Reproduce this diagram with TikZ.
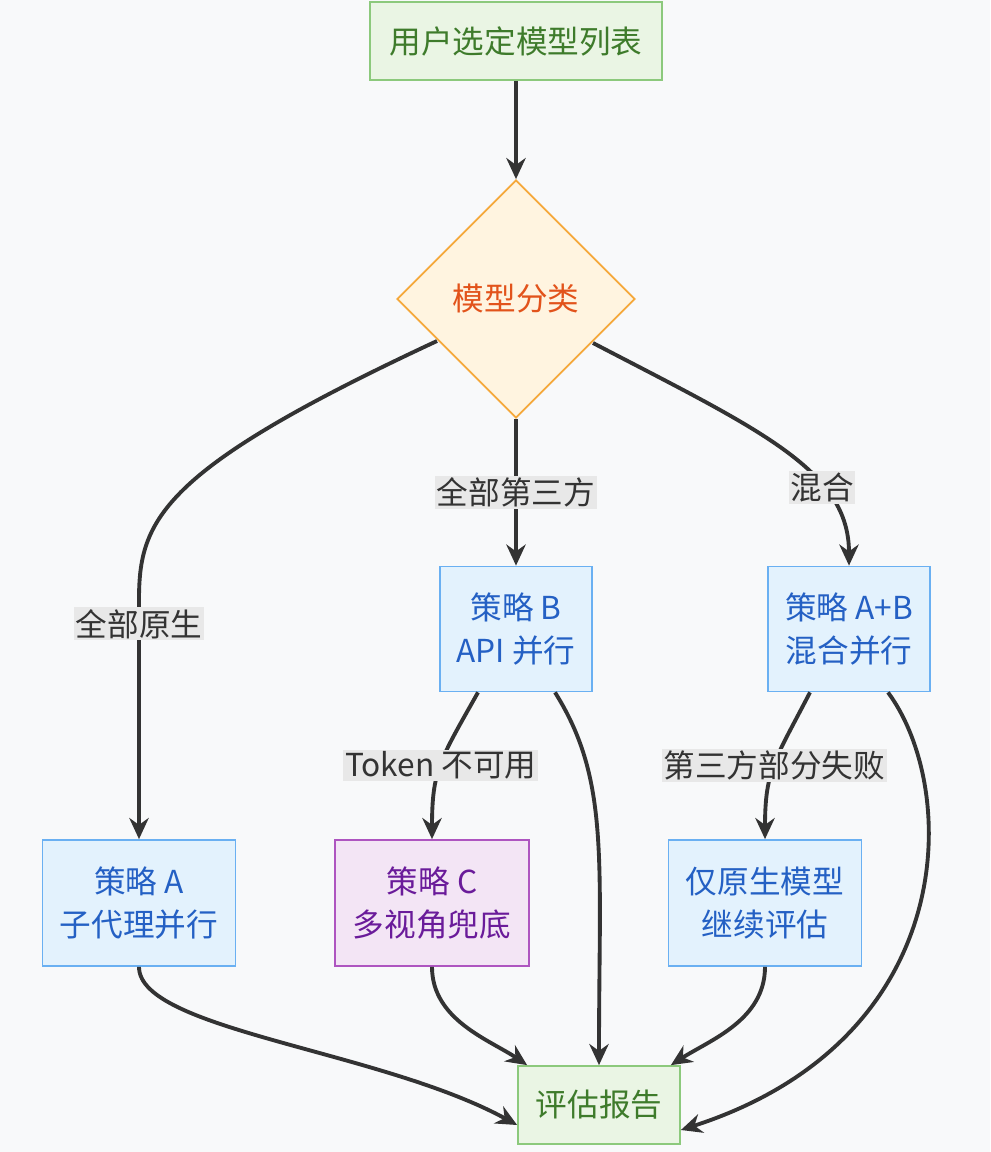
\documentclass[tikz,border=0pt]{standalone}
\usepackage{fontspec}
\setmainfont{Noto Sans CJK SC}
\usetikzlibrary{shapes.geometric,arrows.meta}
\definecolor{bgc}{HTML}{F8F9FA}
\definecolor{grnf}{HTML}{EAF5E4}\definecolor{grnd}{HTML}{8CC97C}\definecolor{grnt}{HTML}{3E7B2B}
\definecolor{orf}{HTML}{FFF4E0}\definecolor{ord}{HTML}{F5A83A}\definecolor{ort}{HTML}{E2531B}
\definecolor{blf}{HTML}{E3F2FD}\definecolor{bld}{HTML}{6AB0F2}\definecolor{blt}{HTML}{2460C4}
\definecolor{puf}{HTML}{F3E5F5}\definecolor{pud}{HTML}{AE55C0}\definecolor{put}{HTML}{6A1B9A}
\definecolor{lnc}{HTML}{333333}\definecolor{lbf}{HTML}{E8E8E8}
\begin{document}
\begin{tikzpicture}[x=0.02cm, y=-0.02cm, font=\fontsize{18}{25}\selectfont,
    box/.style={rectangle, draw, line width=1pt, align=center, inner sep=0pt},
    green box/.style={box, fill=grnf, draw=grnd, text=grnt},
    blue box/.style={box, fill=blf, draw=bld, text=blt},
    purple box/.style={box, fill=puf, draw=pud, text=put},
    decision/.style={diamond, draw=ord, fill=orf, text=ort, line width=1pt, inner sep=0pt},
    link/.style={draw=lnc, line width=2.2pt, -{Stealth[length=12pt,width=11pt]}},
    lbl/.style={fill=lbf, text=lnc, inner sep=1pt}]

  \fill[bgc] (0,0) rectangle (990,1152);

  \node[green box, minimum width=5.84cm, minimum height=1.56cm] (start) at (516,41) {用户选定模型列表};
  \node[decision, minimum width=4.76cm, minimum height=4.76cm] (cls) at (516,299) {模型分类};
  \node[blue box, minimum width=3.04cm, minimum height=2.5cm] (sb) at (516,629) {策略 B\\API 并行};
  \node[blue box, minimum width=3.24cm, minimum height=2.5cm] (sab) at (849,629) {策略 A+B\\混合并行};
  \node[blue box, minimum width=3.86cm, minimum height=2.52cm] (sa) at (139,903) {策略 A\\子代理并行};
  \node[purple box, minimum width=3.88cm, minimum height=2.52cm] (sc) at (432,903) {策略 C\\多视角兜底};
  \node[blue box, minimum width=3.86cm, minimum height=2.52cm] (nat) at (765,903) {仅原生模型\\继续评估};
  \node[green box, minimum width=3.24cm, minimum height=1.56cm] (rep) at (599,1105) {评估报告};

  \coordinate (clsL) at (437,341);
  \coordinate (clsR) at (593,343);

  \path[link] (start) -- (cls);
  \path[link] (clsL) .. controls (160,470) and (139,520) .. (139,600) -- node[pos=0.1, lbl] {全部原生} (sa.north);
  \path[link] (cls.south) -- node[pos=0.5, lbl] {全部第三方} (sb.north);
  \path[link] (clsR) .. controls (760,430) and (849,470) .. node[pos=0.68, lbl] {混合} (sab.north);
  \path[link] ([xshift=-0.76cm]sb.south) .. controls (440,760) and (432,770) .. node[pos=0.5, lbl] {Token 不可用} (sc.north);
  \path[link] ([xshift=0.78cm]sb.south) .. controls (610,780) and (599,860) .. (rep.north);
  \path[link] ([xshift=-0.78cm]sab.south) .. controls (775,760) and (765,770) .. node[pos=0.5, lbl] {第三方部分失败} (nat.north);
  \path[link] ([xshift=0.78cm]sab.south) .. controls (960,790) and (960,1040) .. ([yshift=-0.5cm]rep.east);
  \path[link] (sa.south) .. controls (139,1030) and (380,1050) .. ([yshift=-0.4cm]rep.west);
  \path[link] (sc.south) .. controls (432,1020) and (490,1040) .. ([xshift=0.2cm]rep.north west);
  \path[link] (nat.south) .. controls (765,1020) and (710,1040) .. ([xshift=-0.2cm]rep.north east);
\end{tikzpicture}
\end{document}
